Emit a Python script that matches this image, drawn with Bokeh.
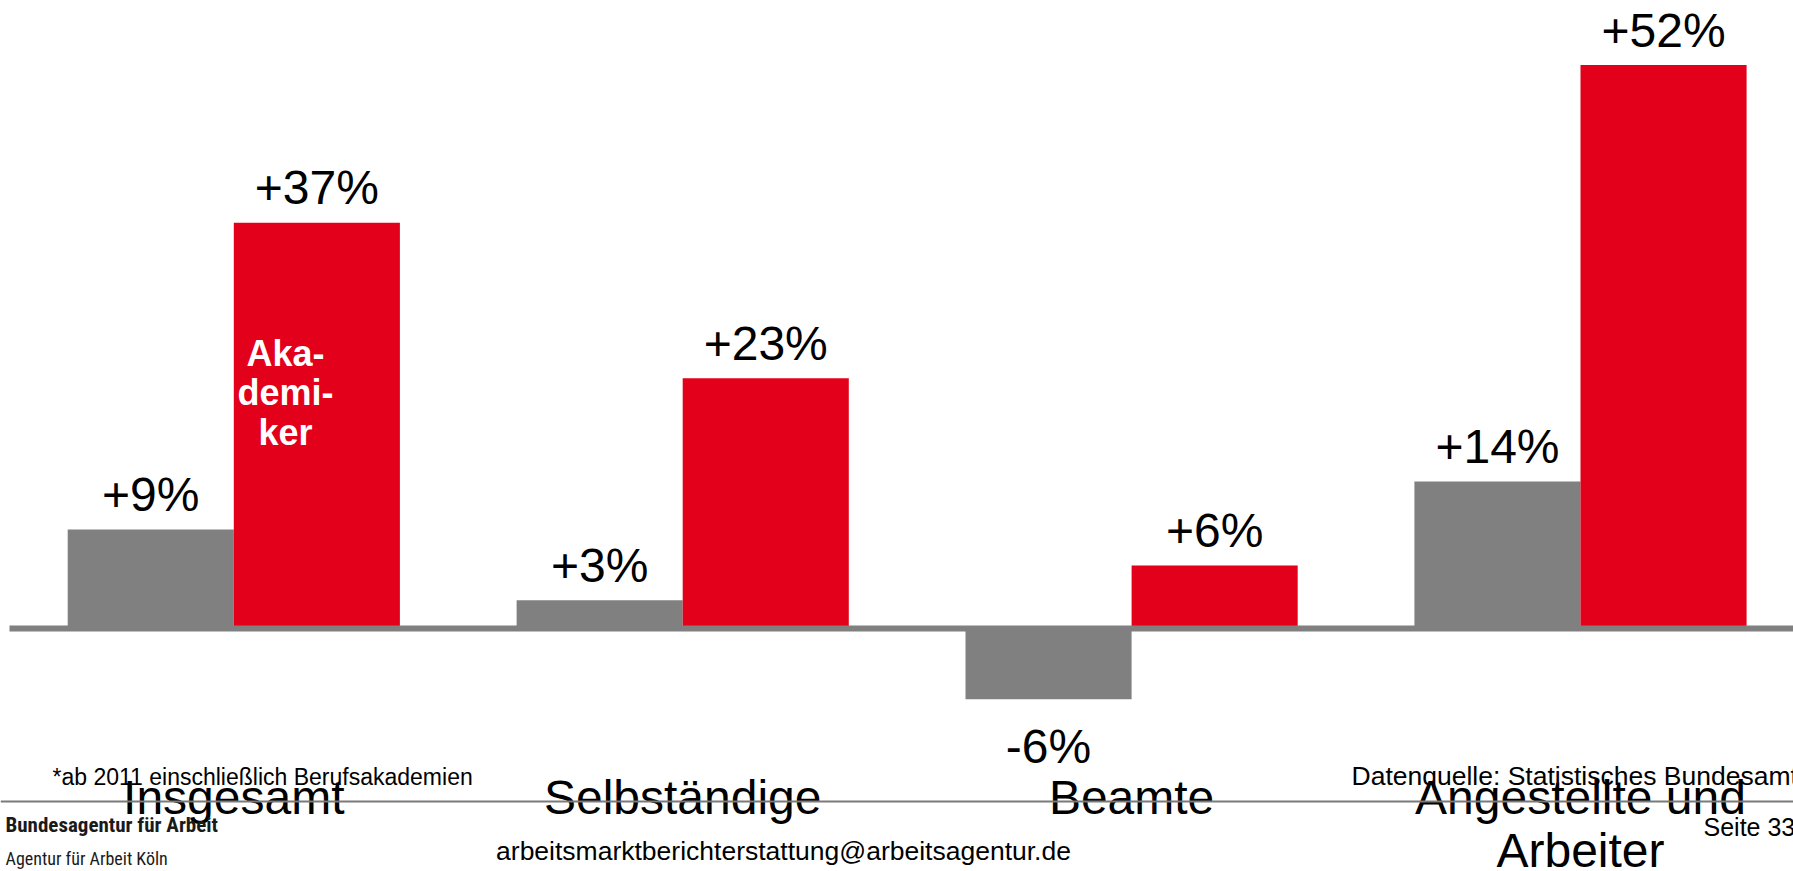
import numpy as np
from bokeh.plotting import figure
from bokeh.models import Span, ColumnDataSource
from bokeh.core.properties import value
from bokeh.embed import file_html
from bokeh.resources import INLINE

# ---------------- data ----------------
categories = ["Insgesamt", "Selbständige", "Beamte", "Angestellte und\nArbeiter"]
gesamt = [9.1, 2.6, -6.5, 13.5]          # alle Erwerbstätigen (grau)
akademiker = [37.3, 23.0, 5.8, 51.8]     # Akademiker (rot)
gesamt_labels = ["+9%", "+3%", "-6%", "+14%"]
akademiker_labels = ["+37%", "+23%", "+6%", "+52%"]
series_note = ["Aka-", "demi-", "ker"]
footnote = "*ab 2011 einschließlich Berufsakademien"
source_note = "Datenquelle: Statistisches Bundesamt"
org_name = "Bundesagentur für Arbeit"
org_unit = "Agentur für Arbeit Köln"
email = "arbeitsmarktberichterstattung@arbeitsagentur.de"
page_label = "Seite 33"

# ---------------- layout ----------------
W, H = 1793, 871
PXU = 448.9      # px per category
PYU = 10.88      # px per percent point
XS = -233.3 / PXU
XE = XS + W / PXU
YE = 628 / PYU
YS = YE - H / PYU
BASE = 0.36      # baseline correction (em) for alphabetic text


def dx(px):
    return XS + px / PXU


def dy(py, fs=0):
    return YE - (py - BASE * fs) / PYU


GRAY = "#808080"
RED = "#E2001A"
FONT = value("Liberation Sans")
NARROW = value("Liberation Sans Narrow, Roboto Condensed, Roboto, Liberation Sans")

p = figure(width=W, height=H, x_range=(XS, XE), y_range=(YS, YE),
           output_backend="svg", toolbar_location=None,
           x_axis_location=None, y_axis_location=None,
           min_border=0, outline_line_color=None,
           background_fill_color="white", border_fill_color="white")
p.grid.visible = False

x = np.arange(len(categories))
bw = 0.37

p.vbar(x=x - bw / 2, bottom=0, top=gesamt, width=bw, fill_color=GRAY, line_color=None)
p.vbar(x=x + bw / 2, bottom=0, top=akademiker, width=bw, fill_color=RED, line_color=None)

# zero line and footer rule
p.segment(x0=[dx(9)], x1=[XE + 0.1], y0=[0], y1=[0], line_color=GRAY, line_width=6, line_cap="butt")
p.add_layout(Span(location=dy(801), dimension="width", line_color="#7a7a7a", line_width=2))

# value labels
VFS = 48
up = -(17.5 + BASE * VFS)
down = 65 - BASE * VFS
g_src = ColumnDataSource(dict(x=x - bw / 2, y=gesamt, t=gesamt_labels,
                              off=[up if v >= 0 else down for v in gesamt]))
r_src = ColumnDataSource(dict(x=x + bw / 2, y=akademiker, t=akademiker_labels,
                              off=[up if v >= 0 else down for v in akademiker]))
for src in (g_src, r_src):
    p.text(x="x", y="y", text="t", y_offset="off", source=src,
           text_align="center", text_baseline="alphabetic",
           text_font=FONT, text_font_size=f"{VFS}px", text_color="black")

# category labels (split lines)
lines = [c.split("\n") for c in categories]
first = [l[0] for l in lines]
p.text(x=x, y=[dy(814, 48)] * len(first), text=first, text_align="center",
       text_baseline="alphabetic", text_font=FONT, text_font_size="48px", text_color="black")
sx = [x[i] for i, l in enumerate(lines) if len(l) > 1]
second = [l[1] for l in lines if len(l) > 1]
p.text(x=sx, y=[dy(867, 48)] * len(second), text=second, text_align="center",
       text_baseline="alphabetic", text_font=FONT, text_font_size="48px", text_color="black")

# series note inside first red bar
p.text(x=[dx(285)] * 3, y=[dy(366, 36), dy(405, 36), dy(445, 36)], text=series_note,
       text_align="center", text_baseline="alphabetic", text_font=FONT,
       text_font_size="36px", text_font_style="bold", text_color="white")

# footer texts
p.text(x=[dx(52)], y=[dy(785, 23)], text=[footnote], text_align="left", text_baseline="alphabetic",
       text_font=FONT, text_font_size="23px", text_color="black")
p.text(x=[dx(1351)], y=[dy(785, 26.5)], text=[source_note], text_align="left", text_baseline="alphabetic",
       text_font=FONT, text_font_size="26.5px", text_color="black")
p.text(x=[dx(5)], y=[dy(832, 21)], text=[org_name], text_align="left", text_baseline="alphabetic",
       text_font=NARROW, text_font_size="21px", text_font_style="bold", text_color="#1a1a1a")
p.text(x=[dx(5)], y=[dy(864, 18)], text=[org_unit], text_align="left", text_baseline="alphabetic",
       text_font=NARROW, text_font_size="18px", text_color="#1a1a1a")
p.text(x=[dx(783)], y=[dy(860, 26.5)], text=[email], text_align="center", text_baseline="alphabetic",
       text_font=FONT, text_font_size="26.5px", text_color="black")
p.text(x=[dx(1703)], y=[dy(835, 25)], text=[page_label], text_align="left", text_baseline="alphabetic",
       text_font=FONT, text_font_size="25px", text_color="black")

open("out.html", "w").write(file_html(p, INLINE))
